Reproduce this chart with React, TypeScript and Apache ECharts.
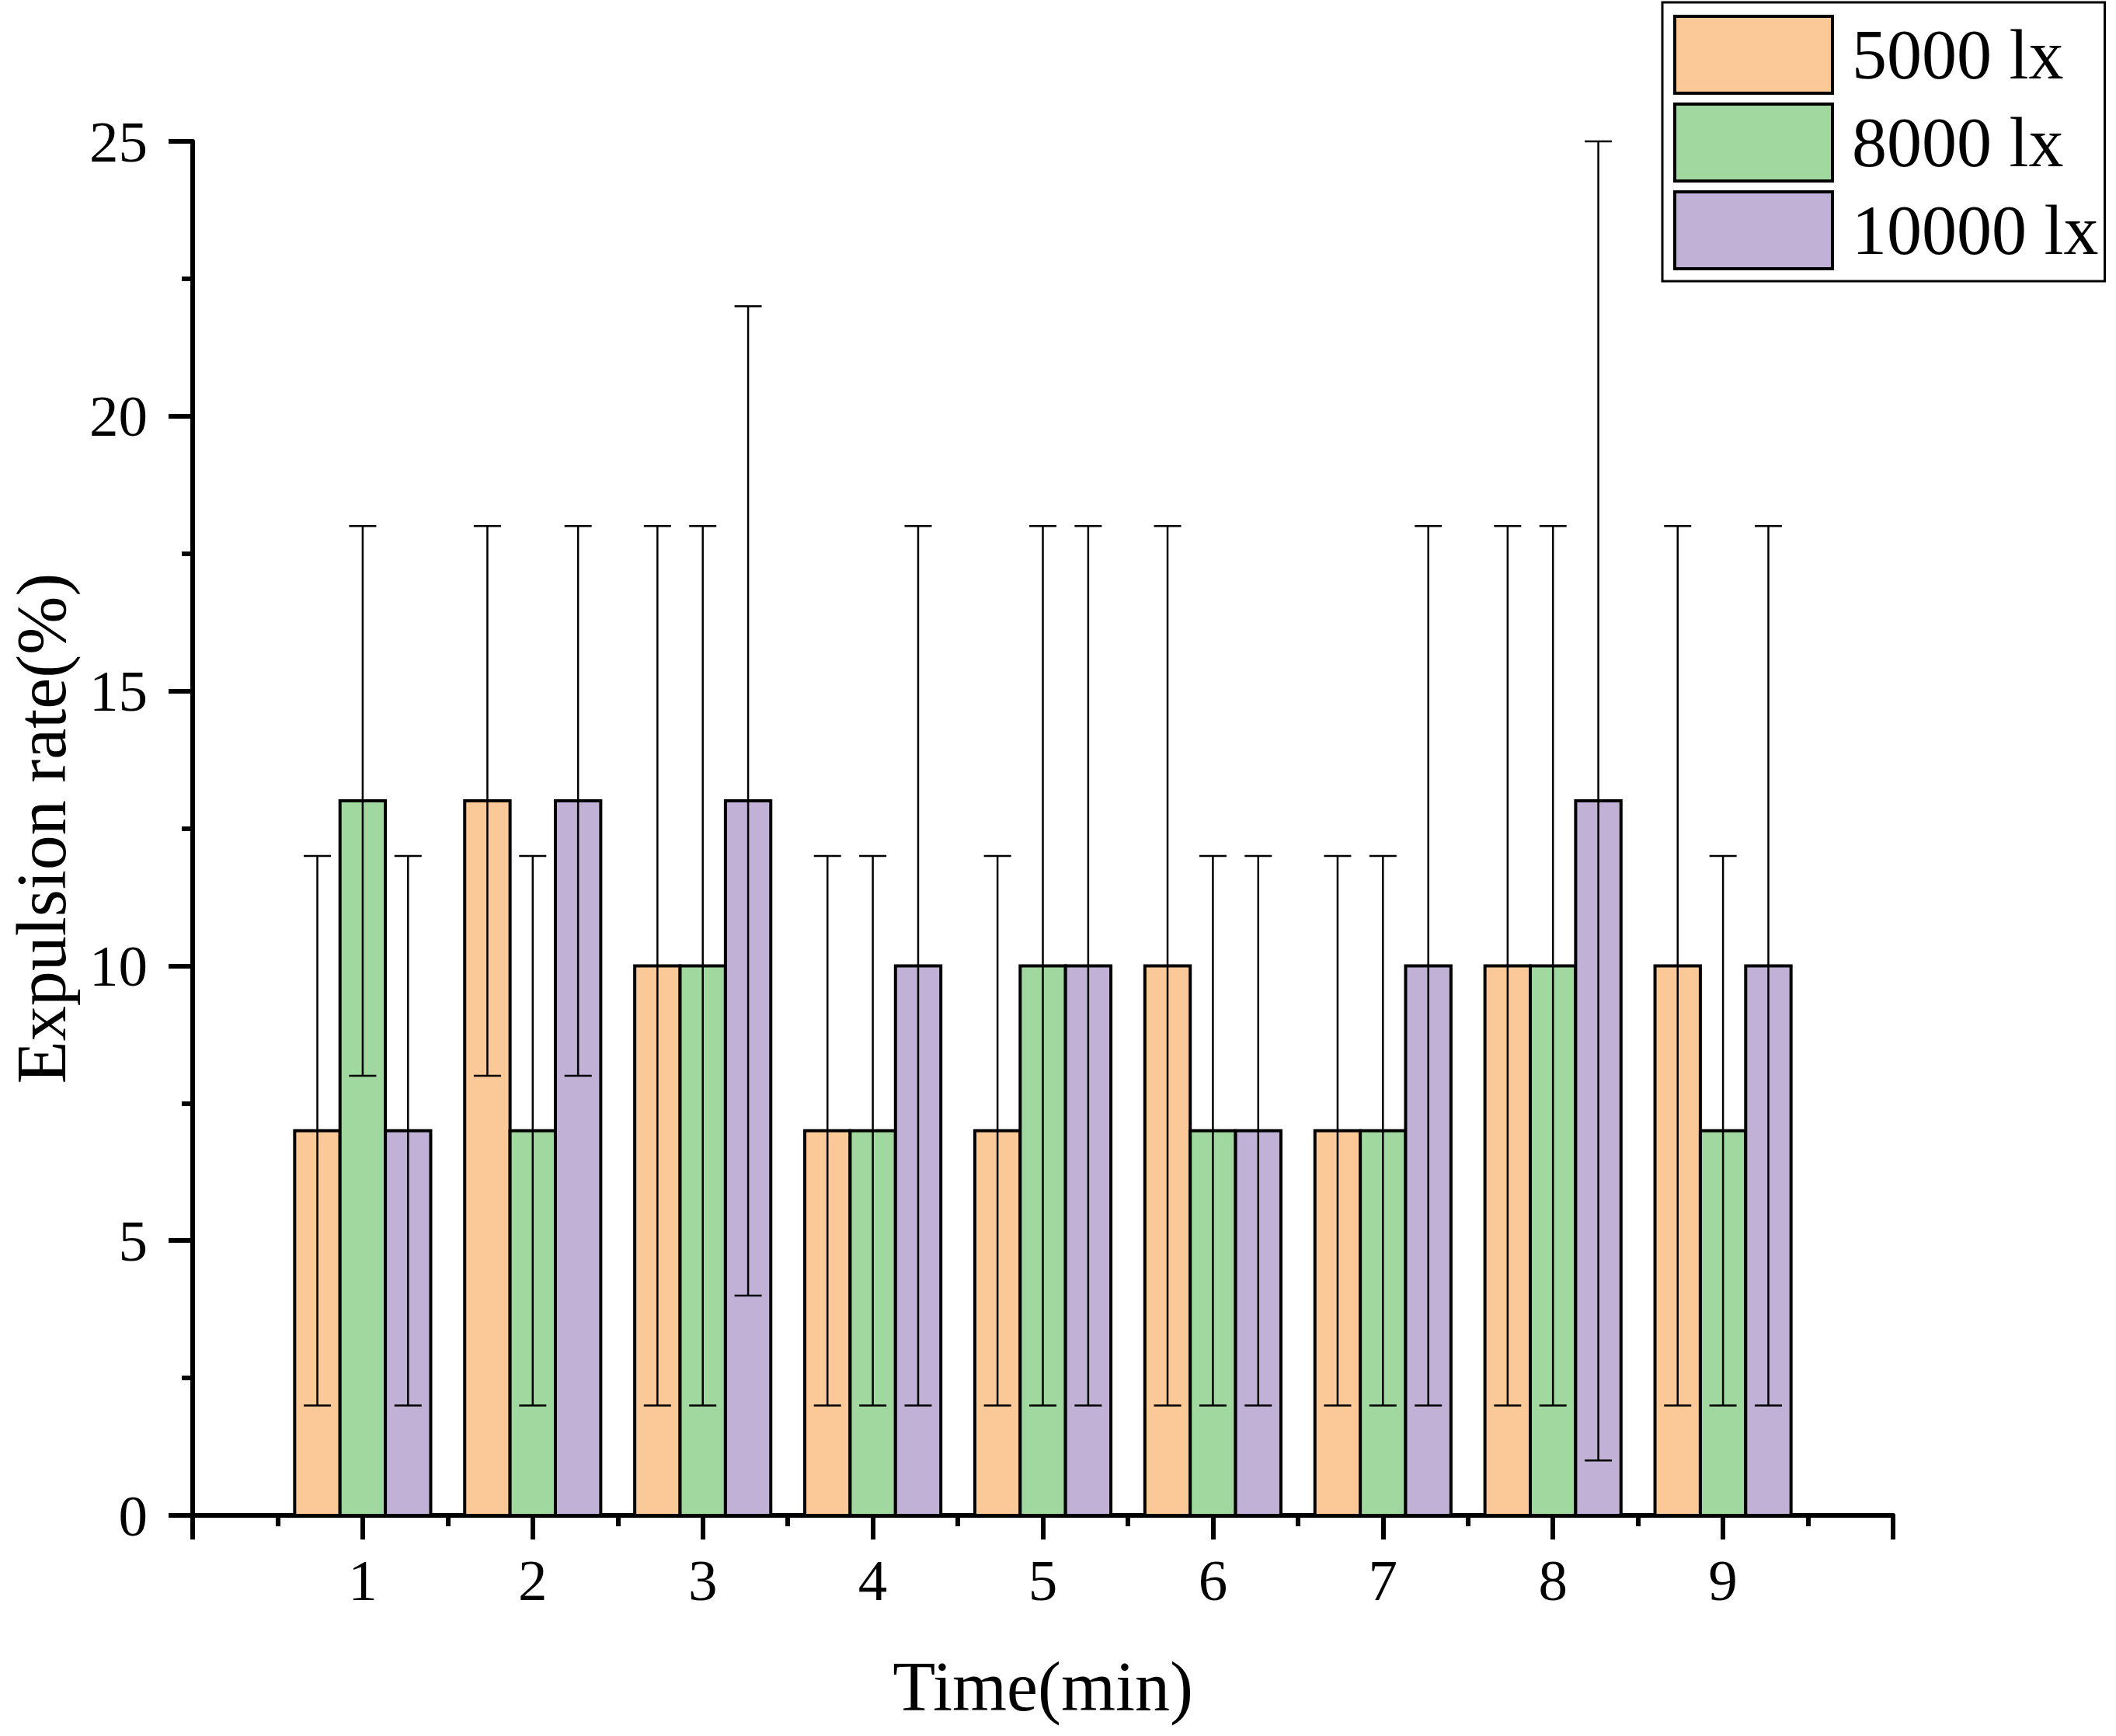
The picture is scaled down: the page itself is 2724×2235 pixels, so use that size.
import React, { useEffect, useRef } from "react";
import * as echarts from "echarts";

const times = [1, 2, 3, 4, 5, 6, 7, 8, 9];
const seriesNames = ["5000 lx", "8000 lx", "10000 lx"];
const seriesColors = ["#FBC898", "#A0D89F", "#C1B1D6"];

const mean5000 = [7, 13, 10, 7, 7, 10, 7, 10, 10];
const low5000 = [2, 8, 2, 2, 2, 2, 2, 2, 2];
const high5000 = [12, 18, 18, 12, 12, 18, 12, 18, 18];

const mean8000 = [13, 7, 10, 7, 10, 7, 7, 10, 7];
const low8000 = [8, 2, 2, 2, 2, 2, 2, 2, 2];
const high8000 = [18, 12, 18, 12, 18, 12, 12, 18, 12];

const mean10000 = [7, 13, 13, 10, 10, 7, 10, 13, 10];
const low10000 = [2, 8, 4, 2, 2, 2, 2, 1, 2];
const high10000 = [12, 18, 22, 18, 18, 12, 18, 25, 18];

const yTicks = { min: 0, max: 25, interval: 5 };
const xTicks = { min: 0, max: 10, interval: 1 };

const FONT = "'Liberation Serif', 'Times New Roman', serif";

export default function App() {
  const ref = useRef<HTMLDivElement>(null);
  useEffect(() => {
    document.body.style.margin = "0";
    if (!ref.current) return;
    const chart = echarts.init(ref.current, null, { renderer: "svg" });
    const groupWidth = 0.8;
    const barW = groupWidth / 3;
    const offsets = [-barW, 0, barW];
    const means = [mean5000, mean8000, mean10000];
    const lows = [low5000, low8000, low10000];
    const highs = [high5000, high8000, high10000];

    const makeSeries = (si: number) => ({
      type: "custom",
      name: seriesNames[si],
      itemStyle: { color: seriesColors[si], borderColor: "#000", borderWidth: 4 },
      encode: { x: 0, y: 1 },
      data: times.map((t, i) => [t, means[si][i], lows[si][i], highs[si][i]]),
      renderItem: (params: any, api: any) => {
        const x = api.value(0);
        const v = api.value(1);
        const lo = api.value(2);
        const hi = api.value(3);
        const cx = x + offsets[si];
        const p0 = api.coord([cx - barW / 2, v]);
        const p1 = api.coord([cx + barW / 2, 0]);
        const top = api.coord([cx, hi]);
        const bot = api.coord([cx, lo]);
        const cap = 17.5;
        const lineStyle = { stroke: "#000", lineWidth: 2.5 };
        return {
          type: "group",
          children: [
            {
              type: "rect",
              shape: { x: p0[0], y: p0[1], width: p1[0] - p0[0], height: p1[1] - p0[1] },
              style: { fill: seriesColors[si], stroke: "#000", lineWidth: 4 },
            },
            {
              type: "line",
              shape: { x1: top[0], y1: top[1], x2: bot[0], y2: bot[1] },
              style: lineStyle,
            },
            {
              type: "line",
              shape: { x1: top[0] - cap, y1: top[1], x2: top[0] + cap, y2: top[1] },
              style: lineStyle,
            },
            {
              type: "line",
              shape: { x1: bot[0] - cap, y1: bot[1], x2: bot[0] + cap, y2: bot[1] },
              style: lineStyle,
            },
          ],
        };
      },
    });

    const axisCommon = {
      axisLine: { show: true, onZero: false, lineStyle: { color: "#000", width: 6 } },
      axisTick: { show: true, inside: false, length: 31, lineStyle: { color: "#000", width: 6 } },
      minorTick: { show: true, splitNumber: 2, length: 14, lineStyle: { color: "#000", width: 6 } },
      splitLine: { show: false },
      minorSplitLine: { show: false },
    };

    chart.setOption({
      animation: false,
      backgroundColor: "#fff",
      grid: { left: 243, right: 287, top: 182, bottom: 284, containLabel: false },
      legend: {
        show: true,
        orient: "vertical",
        left: 2140,
        top: 3,
        padding: [16, 8, 14, 14],
        itemWidth: 203,
        itemHeight: 99,
        itemGap: 10,
        icon: "rect",
        borderColor: "#000",
        borderWidth: 3,
        backgroundColor: "#fff",
        itemStyle: { borderColor: "#000", borderWidth: 4 },
        textStyle: {
          fontFamily: FONT,
          fontSize: 90,
          color: "#000",
          padding: [0, 0, 0, 20],
        },
        data: seriesNames,
      },
      xAxis: {
        type: "value",
        min: xTicks.min,
        max: xTicks.max,
        interval: xTicks.interval,
        ...axisCommon,
        axisLabel: {
          show: true,
          margin: 46,
          fontFamily: FONT,
          fontSize: 75,
          color: "#000",
          formatter: (val: number) => (val >= 1 && val <= 9 ? String(val) : ""),
        },
        name: "Time(min)",
        nameLocation: "middle",
        nameGap: 175,
        nameTextStyle: { fontFamily: FONT, fontSize: 90, color: "#000" },
      },
      yAxis: {
        type: "value",
        min: yTicks.min,
        max: yTicks.max,
        interval: yTicks.interval,
        ...axisCommon,
        axisLabel: {
          show: true,
          margin: 58,
          fontFamily: FONT,
          fontSize: 75,
          color: "#000",
        },
        name: "Expulsion rate(%)",
        nameLocation: "middle",
        nameGap: 150,
        nameTextStyle: { fontFamily: FONT, fontSize: 90, color: "#000" },
      },
      series: [makeSeries(0), makeSeries(1), makeSeries(2)],
    });
    return () => chart.dispose();
  }, []);
  return <div ref={ref} style={{ width: 2724, height: 2235 }} />;
}
